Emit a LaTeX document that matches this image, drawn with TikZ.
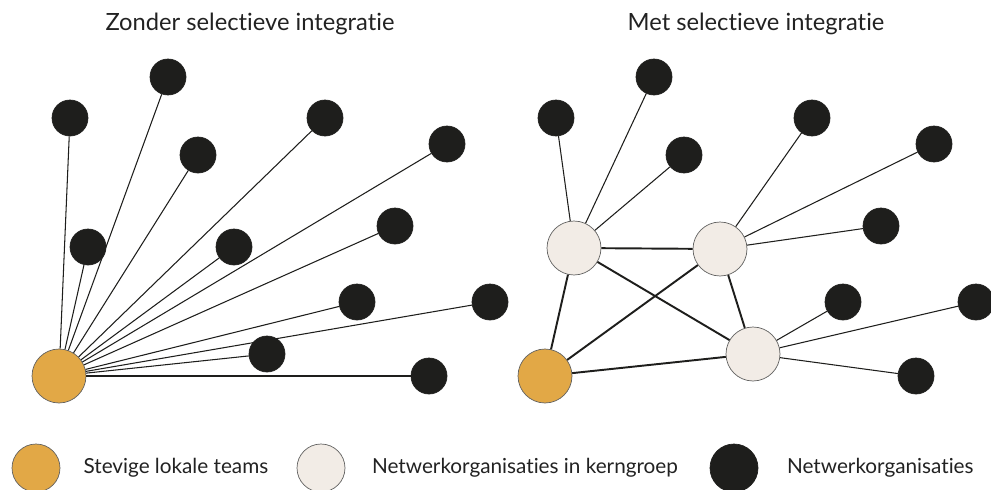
\documentclass[tikz,border=0pt]{standalone}
\usepackage{fontspec}
\setmainfont{Lato}[Ligatures=NoCommon]
\usetikzlibrary{positioning}
\definecolor{team}{RGB}{226, 168, 70}
\definecolor{kern}{RGB}{242, 236, 230}
\definecolor{org}{RGB}{30, 30, 28}
\definecolor{ink}{RGB}{34, 34, 34}

\begin{document}
\begin{tikzpicture}[
    x=0.02cm, y=-0.02cm,
    font=\fontsize{13}{15}\selectfont,
    text=ink,
    orgnode/.style={
        circle, fill=org, draw=org,
        minimum size=0.72cm, inner sep=0pt,
    },
    teamnode/.style={
        circle, fill=team, draw=org!70,
        line width=0.4pt,
        minimum size=1.08cm, inner sep=0pt,
    },
    kernnode/.style={
        circle, fill=kern, draw=org!70,
        line width=0.4pt,
        minimum size=1.08cm, inner sep=0pt,
    },
    legendnode/.style={
        #1, minimum size=0.96cm,
    },
    leaf/.style={draw=org, line width=0.6pt},
    core/.style={draw=org, line width=1.1pt},
    title/.style={font=\fontsize{13.5}{16}\selectfont},
    legendtext/.style={
        font=\fontsize{11.8}{14}\selectfont, anchor=west,
    },
]

\useasboundingbox (0,0) rectangle (991,490);

% =================================================
% LEFT: every organisation tied to the local team
% =================================================
\node[title] (titleL) at (250,24) {Zonder selectieve integratie};

\node[orgnode] (l1)  at (70,118)  {};
\node[orgnode] (l2)  at (168,77)  {};
\node[orgnode] (l3)  at (198,155) {};
\node[orgnode] (l4)  at (325,118) {};
\node[orgnode] (l5)  at (447,144) {};
\node[orgnode] (l6)  at (88,247)  {};
\node[orgnode] (l7)  at (234,247) {};
\node[orgnode] (l8)  at (395,226) {};
\node[orgnode] (l9)  at (357,302) {};
\node[orgnode] (l10) at (490,302) {};
\node[orgnode] (l11) at (267,354) {};
\node[orgnode] (l12) at (429,376) {};

\node[teamnode] (teamL) at (59,376) {};

\foreach \n in {l1,l2,l3,l4,l5,l6,l7,l8,l9,l10,l11,l12}
    \draw[leaf] (teamL) -- (\n);

% =================================================
% RIGHT: core group in between
% =================================================
\node[title] (titleR) at (756,24) {Met selectieve integratie};

\node[orgnode] (r1) at (556,118) {};
\node[orgnode] (r2) at (654,77)  {};
\node[orgnode] (r3) at (684,155) {};
\node[orgnode] (r4) at (812,118) {};
\node[orgnode] (r5) at (934,144) {};
\node[orgnode] (r6) at (881,226) {};
\node[orgnode] (r7) at (843,302) {};
\node[orgnode] (r8) at (976,302) {};
\node[orgnode] (r9) at (916,376) {};

\node[kernnode] (kA) at (574,248) {};
\node[kernnode] (kB) at (720,249) {};
\node[kernnode] (kC) at (753,354) {};

\node[teamnode] (teamR) at (545,376) {};

\draw[leaf] (kA) -- (r1);
\draw[leaf] (kA) -- (r2);
\draw[leaf] (kA) -- (r3);
\draw[leaf] (kB) -- (r4);
\draw[leaf] (kB) -- (r5);
\draw[leaf] (kB) -- (r6);
\draw[leaf] (kC) -- (r7);
\draw[leaf] (kC) -- (r8);
\draw[leaf] (kC) -- (r9);

\draw[core] (kA) -- (kB);
\draw[core] (kA) -- (kC);
\draw[core] (kB) -- (kC);
\draw[core] (teamR) -- (kA);
\draw[core] (teamR) -- (kB);
\draw[core] (teamR) -- (kC);

% =================================================
% Legend
% =================================================
\node[legendnode=teamnode] (legTeam) at (36,468)  {};
\node[legendnode=kernnode] (legKern) at (321,468) {};
\node[legendnode=orgnode]  (legOrg)  at (734,468) {};

\node[legendtext, right=0.34cm of legTeam] {Stevige lokale teams};
\node[legendtext, right=0.41cm of legKern] {Netwerkorganisaties in kerngroep};
\node[legendtext, right=0.45cm of legOrg]  {Netwerkorganisaties};

\end{tikzpicture}
\end{document}
